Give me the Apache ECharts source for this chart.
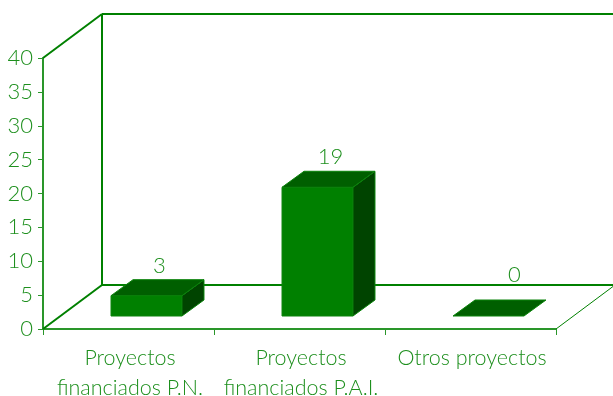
<!DOCTYPE html>
<html><head><meta charset="utf-8">
<style>html,body{margin:0;padding:0;background:#fff}#c{width:613px;height:396px}</style>
<script src="https://cdn.jsdelivr.net/npm/echarts@6/dist/echarts.min.js"></script>
</head><body><div id="c"></div>
<script>
const categories = ['Proyectos\nfinanciados P.N.', 'Proyectos\nfinanciados P.A.I.', 'Otros proyectos'];
const values = [3, 19, 0];
const yTicks = [0, 5, 10, 15, 20, 25, 30, 35, 40];
const FONT = 'Lato';
const TXT = '#1d8f1d', LINE = '#008000', AXIS = '#2a962a';
const WALL = [59, -44], BASE = [18, -13], DEPTH = [22, -16], BAR_RATIO = 0.415;
const chart = echarts.init(document.getElementById('c'), null, {renderer: 'canvas'});
const ln = (a, b, w) => ({type: 'line', shape: {x1: a[0], y1: a[1], x2: b[0], y2: b[1]},
  style: {stroke: LINE, lineWidth: w || 2}});
const poly = (pts, fill) => ({type: 'polygon', shape: {points: pts},
  style: {fill, stroke: '#0a830a', lineWidth: 1}});
chart.setOption({
  animation: false,
  grid: {left: 43, right: 57, top: 58, bottom: 67, containLabel: false, outerBoundsMode: 'none'},
  xAxis: {type: 'category', data: categories,
    axisLine: {show: true, lineStyle: {color: AXIS, width: 2}},
    axisTick: {show: true, length: 6, lineStyle: {color: AXIS, width: 1}},
    axisLabel: {color: TXT, fontFamily: FONT, fontSize: 21.5, fontWeight: 300, lineHeight: 30, margin: 14, interval: 0, padding: [0, 0, 0, 3]}},
  yAxis: {type: 'value', min: 0, max: 40, interval: 5,
    axisLine: {show: true, lineStyle: {color: AXIS, width: 2}},
    axisTick: {show: true, length: 5, lineStyle: {color: AXIS, width: 1}},
    splitLine: {show: false},
    axisLabel: {color: TXT, fontFamily: FONT, fontSize: 22, fontWeight: 300, margin: 10, padding: [6, 0, 0, 0],
      formatter: v => yTicks.includes(v) ? String(v) : ''}},
  series: [
    {type: 'custom', clip: false, z: 1, silent: true, data: [[0]],
      renderItem: (p, api) => {
        const o = api.coord([0, 0]), s = api.size([1, 0])[0];
        const x0 = o[0] - s / 2, x1 = o[0] + 2.5 * s, y0 = o[1], y1 = api.coord([0, 40])[1];
        const b = (x, y) => [x + WALL[0], y + WALL[1]];
        return {type: 'group', children: [
          ln([x0, y1], b(x0, y1)), ln(b(x0, y1), [x1 + 80, y1 + WALL[1]]),
          ln(b(x0, y1), b(x0, y0)), ln([x0, y0], b(x0, y0)),
          ln(b(x0, y0), b(x1, y0)), ln([x1, y0], b(x1, y0), 1)
        ]};
      }},
    {type: 'custom', clip: false, z: 3, silent: true, data: values.map((v, i) => [i, v]),
      renderItem: (p, api) => {
        const top = api.coord([api.value(0), api.value(1)]), bot = api.coord([api.value(0), 0]);
        const w = api.size([1, 0])[0] * BAR_RATIO;
        const l = top[0] + BASE[0] - w / 2, r = l + w;
        const yt = top[1] + BASE[1], yb = bot[1] + BASE[1];
        const dx = DEPTH[0], dy = DEPTH[1];
        const flat = api.value(1) === 0;
        const kids = [];
        if (!flat) kids.push(poly([[l, yt], [r, yt], [r, yb], [l, yb]], '#008000'));
        if (!flat) kids.push(poly([[r, yt], [r + dx, yt + dy], [r + dx, yb + dy], [r, yb]], '#004400'));
        kids.push(poly([[l, yt], [r, yt], [r + dx, yt + dy], [l + dx, yt + dy]], '#005f00'));
        kids.push({type: 'text', style: {text: String(api.value(1)),
          x: (l + r) / 2 + dx / 2 + (flat ? 15 : 2), y: yt + dy - (flat ? 25 : 14),
          align: 'center', verticalAlign: 'middle', fill: TXT, font: '300 22px ' + FONT}});
        return {type: 'group', children: kids};
      }}
  ]
});
</script></body></html>
